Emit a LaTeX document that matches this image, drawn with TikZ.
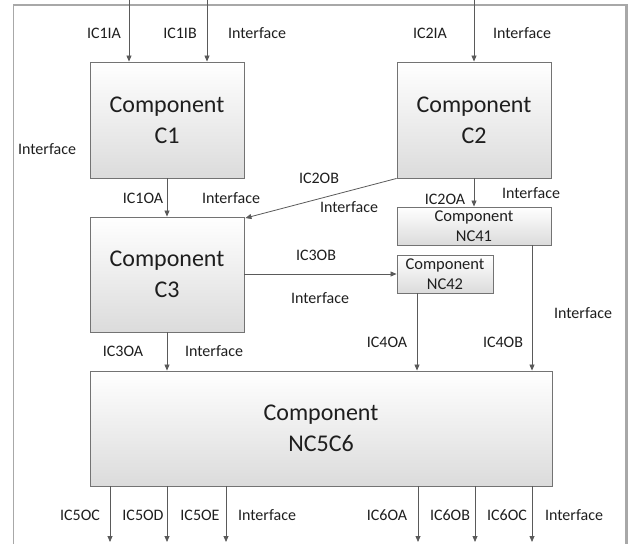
\documentclass[tikz,border=0pt]{standalone}
\usepackage{fontspec}
\setmainfont{Carlito}
\usetikzlibrary{arrows.meta}
\definecolor{linegray}{HTML}{5A5A5A}
\definecolor{framegray}{HTML}{A8A8A8}
\definecolor{boxedge}{HTML}{737373}
\definecolor{txt}{HTML}{1E1E1E}
\tikzset{
  comp/.style={draw=boxedge, line width=0.9pt, top color=white, bottom color=black!14,
    shading angle=0, align=center, text=txt, inner sep=0pt,
    font=\fontsize{24}{31}\selectfont},
  smallcomp/.style={comp, font=\fontsize{16.5}{20}\selectfont},
  conn/.style={draw=linegray, line width=0.8pt, -{Triangle[length=6pt,width=5pt]}},
  lbl/.style={text=txt, inner sep=0pt, font=\fontsize{16}{18}\selectfont}
}
\begin{document}
\begin{tikzpicture}[x=1pt,y=-1pt]
\useasboundingbox (0,0) rectangle (631,543);
% enclosing frame, open towards the bottom
\draw[framegray, line width=1.3pt] (13.5,560) -- (13.5,5) -- (626.5,5);
\draw[framegray, line width=2.2pt] (626.5,4.4) -- (626.5,560);

% components
\node[comp, minimum width=154pt, minimum height=116pt] (c1) at (167,120) {Component\\C1};
\node[comp, minimum width=154pt, minimum height=116pt] (c2) at (474,120) {Component\\C2};
\node[comp, minimum width=154pt, minimum height=115pt] (c3) at (167,274.5) {Component\\C3};
\node[smallcomp, minimum width=154pt, minimum height=38pt] (nc41) at (474,226) {Component\\NC41};
\node[smallcomp, minimum width=96pt, minimum height=38pt] (nc42) at (445,274) {Component\\NC42};
\node[comp, minimum width=462pt, minimum height=115pt] (nc5) at (321,428.5) {Component\\NC5C6};

% free ends of the connectors
\coordinate (i1a) at (129,0);
\coordinate (i1b) at (207,0);
\coordinate (i2a) at (474,0);
\coordinate (x4a) at (417,0);
\coordinate (x4b) at (532,0);
\coordinate (o5c) at (110,542);
\coordinate (o5d) at (167,542);
\coordinate (o5e) at (226,542);
\coordinate (o6a) at (418,542);
\coordinate (o6b) at (475,542);
\coordinate (o6c) at (532,542);

% inputs
\draw[conn] (i1a) -- (i1a |- c1.north);
\draw[conn] (i1b) -- (i1b |- c1.north);
\draw[conn] (i2a) -- (c2.north);
% internal links
\draw[conn] (c1.south) -- (c3.north);
\draw[conn] (c2.south west) -- ([xshift=1pt,yshift=-1.5pt]c3.north east);
\draw[conn] (c2.south) -- (nc41.north);
\draw[conn] (c3.east |- nc42.west) -- (nc42.west);
\draw[conn] (x4a |- nc42.south) -- (x4a |- nc5.north);
\draw[conn] (x4b |- nc41.south) -- (x4b |- nc5.north);
\draw[conn] (c3.south) -- (nc5.north -| c3.south);
% outputs
\foreach \o in {o5c,o5d,o5e,o6a,o6b,o6c}
  \draw[conn] (\o |- nc5.south) -- (\o);

% labels
\node[lbl] (l1) at (104,33) {IC1IA};
\node[lbl] (l2) at (180,33) {IC1IB};
\node[lbl] (l3) at (257,33) {Interface};
\node[lbl] (l4) at (430,33) {IC2IA};
\node[lbl] (l5) at (522,33) {Interface};
\node[lbl] (l6) at (47,149) {Interface};
\node[lbl] (l7) at (143,198) {IC1OA};
\node[lbl] (l8) at (231,198) {Interface};
\node[lbl] (l9) at (319,178) {IC2OB};
\node[lbl] (l10) at (349,207) {Interface};
\node[lbl] (l11) at (445,199) {IC2OA};
\node[lbl] (l12) at (531,193) {Interface};
\node[lbl] (l13) at (316,255) {IC3OB};
\node[lbl] (l14) at (320,298) {Interface};
\node[lbl] (l15) at (123,351) {IC3OA};
\node[lbl] (l16) at (214,351) {Interface};
\node[lbl] (l17) at (387,342) {IC4OA};
\node[lbl] (l18) at (503,342) {IC4OB};
\node[lbl] (l19) at (583,313) {Interface};
\node[lbl] (l20) at (80,515) {IC5OC};
\node[lbl] (l21) at (143,515) {IC5OD};
\node[lbl] (l22) at (200,515) {IC5OE};
\node[lbl] (l23) at (267,515) {Interface};
\node[lbl] (l24) at (387,515) {IC6OA};
\node[lbl] (l25) at (450,515) {IC6OB};
\node[lbl] (l26) at (507,515) {IC6OC};
\node[lbl] (l27) at (574,515) {Interface};
\end{tikzpicture}
\end{document}
